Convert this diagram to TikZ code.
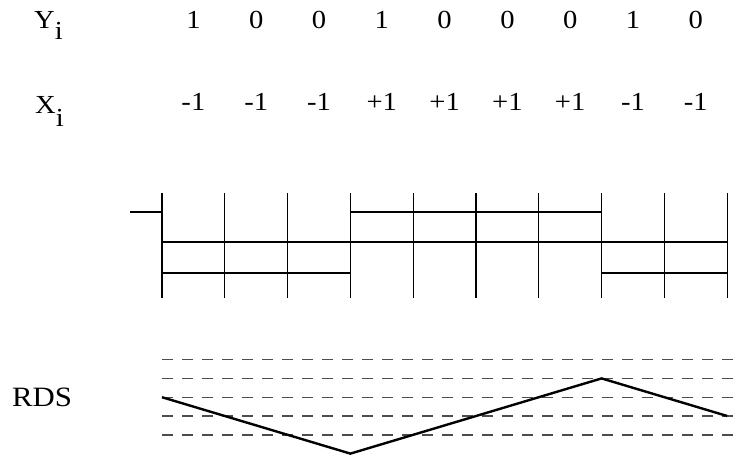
\documentclass[tikz,border=0pt]{standalone}
\usepackage{fontspec}
\setmainfont{Liberation Serif}
\newcommand\widetxt[1]{\scalebox{1.1}[1]{#1}}
\begin{document}
\begin{tikzpicture}[x=1pt,y=-1pt,
  lbl/.style={font=\fontsize{26}{26}\selectfont, anchor=base, inner sep=0pt},
  gridline/.style={line width=1.3pt},
  levelline/.style={line width=2.6pt},
  refline/.style={line width=1.4pt, dash pattern=on 11pt off 9pt, black!70},
  rdsline/.style={line width=2.4pt, line join=miter}]
\useasboundingbox (0,0) rectangle (745,456);
% labels
\node[lbl, anchor=base west] (ylab) at (34,28) {\widetxt{Y\lower11pt\hbox{i}}};
\node[lbl, anchor=base west] (xlab) at (35,113) {\widetxt{X\lower13pt\hbox{i}}};
\foreach \v [count=\k from 0] in {1,0,0,1,0,0,0,1,0}
  \node[lbl] (y\k) at (193.4+62.8*\k,28) {\widetxt{\v}};
\foreach \v [count=\k from 0] in {-1,-1,-1,+1,+1,+1,+1,-1,-1}
  \node[lbl] (x\k) at (193.4+62.8*\k,110) {\widetxt{\v}};
\node[lbl, anchor=base west, font=\fontsize{28}{28}\selectfont] (rds) at (12,406) {\widetxt{RDS}};
% waveform grid
\foreach \k in {0,...,9}
  \draw[gridline] (162+62.8*\k,193) -- (162+62.8*\k,298);
\coordinate (m0) at (162,242);
\coordinate (m9) at (727.2,242);
\draw[gridline] (m0) -- (m9);
% levels
\coordinate (s0) at (130,212);
\coordinate (s1) at (162,212);
\draw[levelline] (s0) -- (s1);
\draw[levelline] (162,273) -- (350.4,273);
\draw[levelline] (350.4,212) -- (601.6,212);
\draw[levelline] (601.6,273) -- (727.2,273);
% RDS reference lines
\foreach \j in {0,...,4}
  \draw[refline] (162,359.6+18.8*\j) -- (735,359.6+18.8*\j);
% RDS curve
\coordinate (r0) at (162,397.2);
\coordinate (r1) at (350.4,453.6);
\coordinate (r2) at (601.6,378.4);
\coordinate (r3) at (727.2,416);
\draw[rdsline] (r0) -- (r1) -- (r2) -- (r3);
\end{tikzpicture}
\end{document}
